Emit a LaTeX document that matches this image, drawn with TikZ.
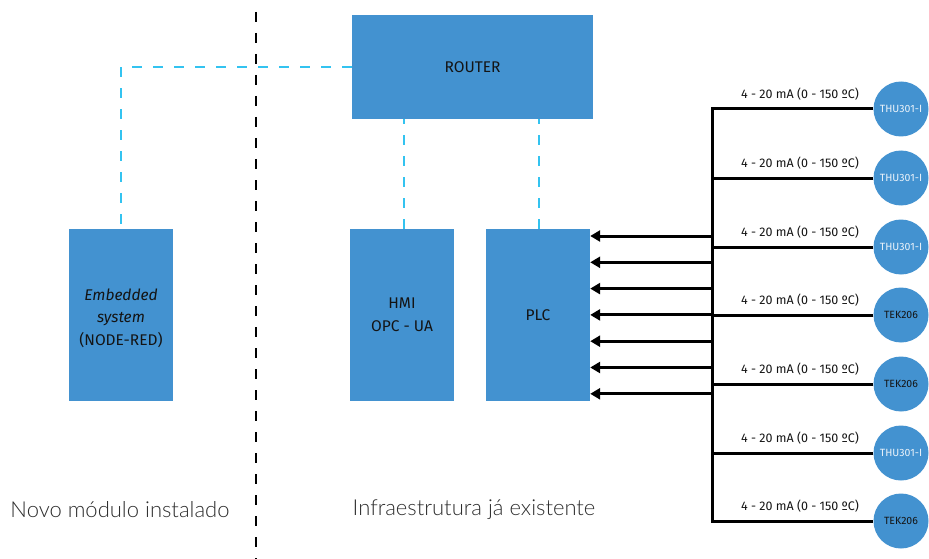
\documentclass[tikz,border=0pt]{standalone}
\usepackage{fontspec}
\setmainfont{Fira Sans}
\newfontfamily\captionfont{Lato Light}
\usetikzlibrary{arrows.meta}

\definecolor{boxblue}{RGB}{67,146,208}
\definecolor{linkcyan}{RGB}{51,195,240}
\definecolor{ink}{RGB}{20,20,20}
\definecolor{pale}{RGB}{236,243,250}
\definecolor{captiongray}{RGB}{45,45,45}

\begin{document}
\begin{tikzpicture}[x=1pt,y=-1pt,
  block/.style={fill=boxblue, draw=none, inner sep=0pt, text=ink,
    font=\fontsize{15.5}{22.5}\selectfont, align=center},
  sensor/.style={circle, fill=boxblue, draw=none, minimum size=55pt,
    inner sep=0pt, font=\fontsize{10.5}{12}\selectfont},
  signal/.style={font=\fontsize{12.5}{14}\selectfont, text=ink, inner sep=0pt},
  caption/.style={font=\captionfont\fontsize{22}{26}\selectfont, text=captiongray, inner sep=0pt},
  link/.style={draw=linkcyan, line width=2.5pt, dash pattern=on 10pt off 11pt},
  divider/.style={draw=black, line width=2.6pt, dash pattern=on 10pt off 11pt},
  wire/.style={draw=black, line width=3pt},
  feed/.style={wire, -{Triangle[length=10pt,width=11pt]}}
]
\useasboundingbox (0,0) rectangle (929,559);

% section divider
\coordinate (divtop) at (256,12);
\coordinate (divbot) at (256,559);
\draw[divider] (divtop) -- (divbot);

% main blocks
\node[block, minimum width=241pt, minimum height=104pt] (router) at (472.5,67) {ROUTER};
\node[block, minimum width=104pt, minimum height=172pt] (embedded) at (121,315) {};
\node[block, fill=none] (embeddedtext) at (121,318)
  {\textit{Embedded}\\\textit{system}\\(NODE-RED)};
\node[block, minimum width=104pt, minimum height=172pt] (hmi) at (402,315) {HMI\\OPC - UA};
\node[block, minimum width=104pt, minimum height=172pt] (plc) at (538,315) {PLC};

% network links
\draw[link] (router.west) -| (embedded.north);
\draw[link] ([xshift=2pt]hmi.north) -- ([xshift=2pt]hmi.north |- router.south);
\draw[link] ([xshift=1pt]plc.north) -- ([xshift=1pt]plc.north |- router.south);

% field instruments
\foreach \i/\y/\tag/\col in {1/109/THU301-I/pale, 2/178/THU301-I/pale, 3/247/THU301-I/pale,
    4/315/TEK206/ink, 5/384/TEK206/ink, 6/453/THU301-I/pale, 7/521/TEK206/ink} {
  \node[sensor, text=\col] (s\i) at (901,\y) {\tag};
  \node[signal] (sig\i) at (800,\y-15) {4 - 20 mA (0 - 150 ºC)};
}

% analog bus
\coordinate (bus) at (712,0);
\draw[wire] (s1.west) -- (s1 -| bus) -- (s7 -| bus) -- (s7.west);
\foreach \i in {2,...,6} {
  \draw[wire] (s\i.west) -- (s\i -| bus);
}

% inputs into the PLC
\foreach \k in {0,...,6} {
  \coordinate (tap\k) at (712,{236+26.3*\k});
  \draw[feed] (tap\k) -- (tap\k -| plc.east);
}

% section captions
\node[caption] (newmod) at (120,510) {Novo módulo instalado};
\node[caption] (infra) at (474,510) {Infraestrutura já existente};
\end{tikzpicture}
\end{document}
